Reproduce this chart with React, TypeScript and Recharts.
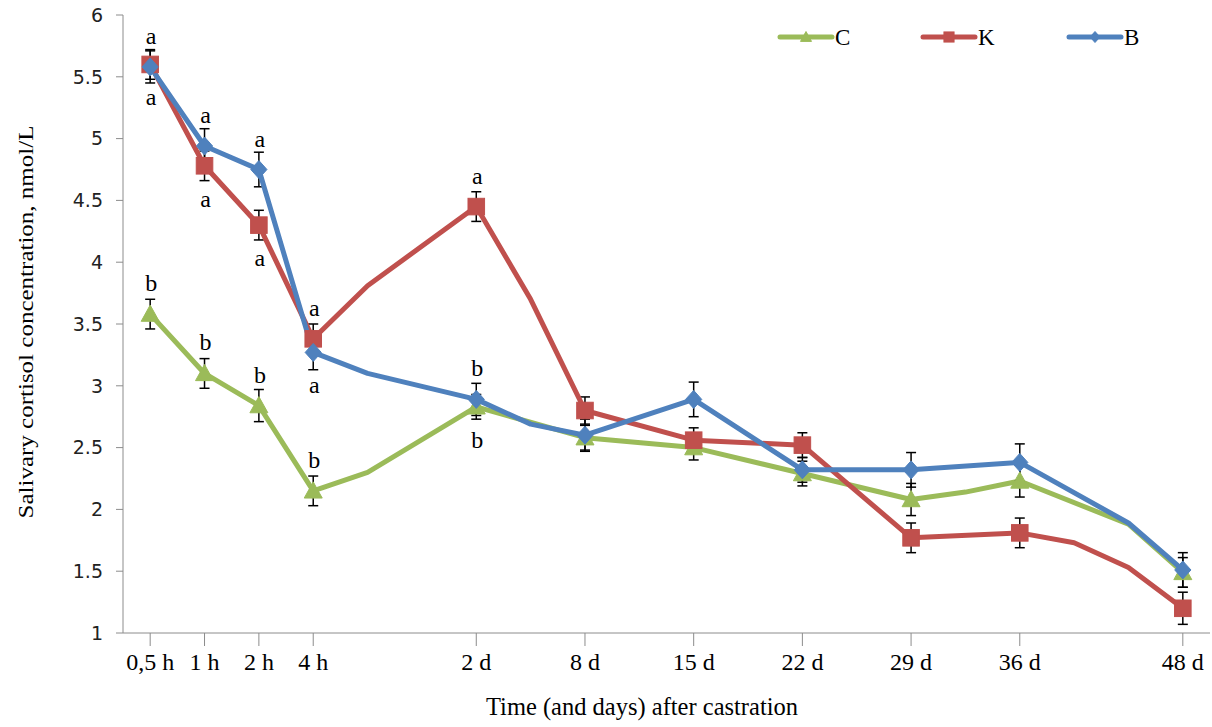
import React from 'react';
import { LineChart, Line, XAxis, YAxis, ErrorBar, Legend, LabelList } from 'recharts';

// 20 equally spaced category slots; empty labels are unlabeled vertices of the lines
const categories = ['0,5 h', '1 h', '2 h', '4 h', '', '', '2 d', '', '8 d', '', '15 d', '', '22 d', '', '29 d', '', '36 d', '', '', '48 d'];

const seriesC = [3.58, 3.10, 2.84, 2.15, 2.30, null, 2.83, null, 2.58, null, 2.50, null, 2.29, null, 2.08, 2.14, 2.23, null, 1.88, 1.49];
const seriesK = [5.60, 4.78, 4.30, 3.38, 3.81, null, 4.45, 3.70, 2.80, null, 2.56, null, 2.52, null, 1.77, null, 1.81, 1.73, 1.53, 1.20];
const seriesB = [5.58, 4.94, 4.75, 3.27, 3.10, null, 2.89, 2.69, 2.60, null, 2.89, null, 2.32, null, 2.32, null, 2.38, null, 1.89, 1.51];

const errC = [0.12, 0.12, 0.13, 0.12, null, null, 0.10, null, 0.10, null, 0.10, null, 0.10, null, 0.13, null, 0.13, null, null, 0.12];
const errK = [0.12, 0.12, 0.12, 0.12, null, null, 0.12, null, 0.11, null, 0.10, null, 0.10, null, 0.12, null, 0.12, null, null, 0.13];
const errB = [0.13, 0.14, 0.14, 0.14, null, null, 0.13, null, 0.13, null, 0.14, null, 0.10, null, 0.14, null, 0.15, null, null, 0.14];

const lettersAboveC = ['b', 'b', 'b', 'b', '', '', '', '', '', '', '', '', '', '', '', '', '', '', '', ''];
const lettersBelowC = ['', '', '', '', '', '', 'b', '', '', '', '', '', '', '', '', '', '', '', '', ''];
const lettersAboveK = ['', '', '', 'a', '', '', 'a', '', '', '', '', '', '', '', '', '', '', '', '', ''];
const lettersBelowK = ['a', 'a', 'a', '', '', '', '', '', '', '', '', '', '', '', '', '', '', '', '', ''];
const lettersAboveB = ['a', 'a', 'a', '', '', '', 'b', '', '', '', '', '', '', '', '', '', '', '', '', ''];
const lettersBelowB = ['', '', '', 'a', '', '', '', '', '', '', '', '', '', '', '', '', '', '', '', ''];

const yTicks = [1, 1.5, 2, 2.5, 3, 3.5, 4, 4.5, 5, 5.5, 6];

const COLORS = { C: '#9BBB59', K: '#C0504D', B: '#4F81BD' };
const SERIF = '"Liberation Serif", "Times New Roman", serif';

const data = categories.map((t, i) => ({
  slot: i,
  t,
  C: seriesC[i],
  K: seriesK[i],
  B: seriesB[i],
  eC: errC[i],
  eK: errK[i],
  eB: errB[i],
}));

const tickSlots = categories.map((c, i) => (c ? i : -1)).filter((i) => i >= 0);

function marker(shape: string, cx: number, cy: number, color: string, s: number) {
  if (shape === 'triangle') {
    return <polygon points={`${cx},${cy - s} ${cx - s},${cy + s * 0.8} ${cx + s},${cy + s * 0.8}`} fill={color} stroke={color} />;
  }
  if (shape === 'square') {
    return <rect x={cx - s * 0.92} y={cy - s * 0.92} width={s * 1.84} height={s * 1.84} fill={color} stroke={color} />;
  }
  return <polygon points={`${cx},${cy - s} ${cx + s * 0.9},${cy} ${cx},${cy + s} ${cx - s * 0.9},${cy}`} fill={color} stroke={color} />;
}

const makeDot = (shape: string, color: string) => (props: any) => {
  const { cx, cy, index } = props;
  if (cx == null || cy == null || !categories[index] || props.value == null) {
    return <g key={`d-${shape}-${index}`} />;
  }
  return <g key={`d-${shape}-${index}`}>{marker(shape, cx, cy, color, 9)}</g>;
};

const makeLetters = (above: string[], below: string[]) => (props: any) => {
  const idx = props.index;
  const x = props.x ?? props.viewBox?.x;
  const y = props.y ?? props.viewBox?.y;
  if (x == null || y == null) return null;
  const a = above[idx];
  const b = below[idx];
  return (
    <g key={`l-${idx}`}>
      {a ? (
        <text x={x + 1} y={y - 23} textAnchor="middle" fontFamily={SERIF} fontSize={24} fill="#000">{a}</text>
      ) : null}
      {b ? (
        <text x={x + 1} y={y + 41} textAnchor="middle" fontFamily={SERIF} fontSize={24} fill="#000">{b}</text>
      ) : null}
    </g>
  );
};

const legendItems = [
  { name: 'C', color: COLORS.C, shape: 'triangle', x: 5 },
  { name: 'K', color: COLORS.K, shape: 'square', x: 148 },
  { name: 'B', color: COLORS.B, shape: 'diamond', x: 294 },
];

const renderLegend = () => (
  <svg width={380} height={34}>
    {legendItems.map((it) => (
      <g key={it.name}>
        <line x1={it.x} y1={17} x2={it.x + 52} y2={17} stroke={it.color} strokeWidth={5} strokeLinecap="round" />
        {marker(it.shape, it.x + 26, 17, it.color, 5.5)}
        <text x={it.x + 55} y={25} fontFamily={SERIF} fontSize={23} fill="#000">{it.name}</text>
      </g>
    ))}
  </svg>
);

const XTitle = () => (
  <text x={642} y={715} textAnchor="middle" fontFamily={SERIF} fontSize={25} fill="#000" textLength={312} lengthAdjust="spacingAndGlyphs">
    Time (and days) after castration
  </text>
);

const YTitle = () => (
  <text x={33} y={322} transform="rotate(-90, 33, 322)" textAnchor="middle" fontFamily={SERIF} fontSize={22} fill="#000" textLength={393} lengthAdjust="spacingAndGlyphs">
    Salivary cortisol concentration, nmol/L
  </text>
);

export default function App() {
  return (
    <div style={{ position: 'absolute', left: 0, top: 0, width: 1212, height: 727, background: '#fff' }}>
      <LineChart width={1212} height={727} data={data} margin={{ top: 15, right: 2, bottom: 0, left: 0 }}>
        <XAxis
          type="number"
          dataKey="slot"
          domain={[-0.5, 19.5]}
          ticks={tickSlots}
          interval={0}
          tickFormatter={(v: number) => categories[v]}
          height={94}
          stroke="#8c8c8c"
          tickSize={13}
          tickMargin={7}
          tick={{ fontFamily: SERIF, fontSize: 24, fill: '#000' }}
          label={{ content: () => <XTitle /> }}
        />
        <YAxis
          type="number"
          domain={[1, 6]}
          ticks={yTicks}
          interval={0}
          allowDataOverflow
          width={123}
          stroke="#8c8c8c"
          tickSize={7}
          tickMargin={13}
          tick={{ fontFamily: '"DejaVu Sans", Verdana, sans-serif', fontSize: 19, fill: '#222' }}
          label={{ content: () => <YTitle /> }}
        />
        <Legend
          layout="horizontal"
          verticalAlign="middle"
          align="center"
          wrapperStyle={{ position: 'absolute', left: 775, top: 20, width: 380, height: 34 }}
          content={renderLegend}
        />
        <Line
          dataKey="C"
          stroke={COLORS.C}
          strokeWidth={5}
          strokeLinejoin="round"
          connectNulls
          isAnimationActive={false}
          dot={makeDot('triangle', COLORS.C)}
          activeDot={false}
        >
          <ErrorBar dataKey="eC" direction="y" width={5} stroke="#000" strokeWidth={1.5} />
          <LabelList dataKey="C" content={makeLetters(lettersAboveC, lettersBelowC)} />
        </Line>
        <Line
          dataKey="K"
          stroke={COLORS.K}
          strokeWidth={5}
          strokeLinejoin="round"
          connectNulls
          isAnimationActive={false}
          dot={makeDot('square', COLORS.K)}
          activeDot={false}
        >
          <ErrorBar dataKey="eK" direction="y" width={5} stroke="#000" strokeWidth={1.5} />
          <LabelList dataKey="K" content={makeLetters(lettersAboveK, lettersBelowK)} />
        </Line>
        <Line
          dataKey="B"
          stroke={COLORS.B}
          strokeWidth={5}
          strokeLinejoin="round"
          connectNulls
          isAnimationActive={false}
          dot={makeDot('diamond', COLORS.B)}
          activeDot={false}
        >
          <ErrorBar dataKey="eB" direction="y" width={5} stroke="#000" strokeWidth={1.5} />
          <LabelList dataKey="B" content={makeLetters(lettersAboveB, lettersBelowB)} />
        </Line>
      </LineChart>
    </div>
  );
}
